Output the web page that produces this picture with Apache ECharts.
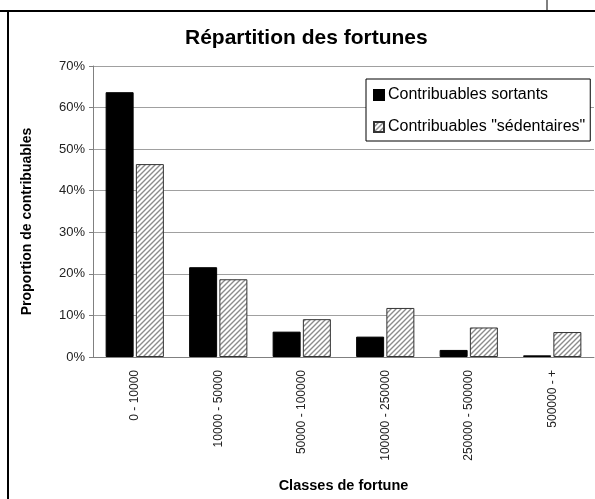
<!DOCTYPE html>
<html>
<head>
<meta charset="utf-8">
<script src="https://cdn.jsdelivr.net/npm/echarts@6/dist/echarts.min.js"></script>
<style>
  html, body { margin: 0; padding: 0; background: #fff; }
  #chart { width: 595px; height: 499px; }
</style>
</head>
<body>
<div id="chart"></div>
<script>
// classes de fortune
var categories = ['0 - 10000', '10000 - 50000', '50000 - 100000', '100000 - 250000', '250000 - 500000', '500000 - +'];
// proportions
var sortants = [0.637, 0.216, 0.061, 0.049, 0.017, 0.004];
var sedentaires = [0.464, 0.187, 0.091, 0.118, 0.071, 0.060];
var seriesNames = ['Contribuables sortants', 'Contribuables "sédentaires"'];

// motif hachuré
function hatch() {
  var c = document.createElement('canvas');
  c.width = 5; c.height = 5;
  var ctx = c.getContext('2d');
  ctx.fillStyle = '#fff';
  ctx.fillRect(0, 0, 5, 5);
  ctx.strokeStyle = '#8c8c8c';
  ctx.lineWidth = 1.4;
  ctx.beginPath();
  ctx.moveTo(-1, 6); ctx.lineTo(6, -1);
  ctx.moveTo(-1, 1); ctx.lineTo(1, -1);
  ctx.moveTo(4, 6); ctx.lineTo(6, 4);
  ctx.stroke();
  return c;
}

var font = 'Liberation Sans, Arial, sans-serif';
var chart = echarts.init(document.getElementById('chart'));
var option = {
  animation: false,
  title: {
    text: 'Répartition des fortunes',
    left: 185,
    top: 28,
    padding: 0,
    textStyle: { fontFamily: font, fontSize: 21, fontWeight: 'bold', color: '#000' }
  },
  legend: {
    orient: 'vertical',
    left: 366,
    top: 79,
    padding: [8, 5, 6, 7],
    itemGap: 16,
    itemWidth: 10,
    itemHeight: 10,
    icon: 'rect',
    borderColor: '#000',
    borderWidth: 1,
    backgroundColor: '#fff',
    textStyle: { fontFamily: font, fontSize: 16, color: '#000', padding: [2, 0, 0, -1] },
    data: seriesNames
  },
  grid: { left: 93, top: 66, right: 1, bottom: 142 },
  xAxis: {
    type: 'category',
    data: categories,
    name: 'Classes de fortune',
    nameLocation: 'middle',
    nameGap: 121,
    nameTextStyle: { fontFamily: font, fontSize: 14.5, fontWeight: 'bold', color: '#000' },
    axisLine: { lineStyle: { color: '#808080', width: 1 } },
    axisTick: { alignWithLabel: false, length: 5, lineStyle: { color: '#808080' } },
    axisLabel: { rotate: 90, margin: 13, fontFamily: font, fontSize: 12, color: '#222', interval: 0 }
  },
  yAxis: {
    type: 'value',
    min: 0,
    max: 0.7,
    interval: 0.1,
    name: 'Proportion de contribuables',
    nameLocation: 'middle',
    nameGap: 59,
    nameTextStyle: { fontFamily: font, fontSize: 14, fontWeight: 'bold', color: '#000', padding: [0, 20, 0, 0] },
    axisLine: { show: true, lineStyle: { color: '#808080' } },
    axisTick: { show: true, inside: false, length: 4, lineStyle: { color: '#808080' } },
    axisLabel: {
      margin: 8, fontFamily: font, fontSize: 13, color: '#222',
      formatter: function (v) { return Math.round(v * 100) + '%'; }
    },
    splitLine: { lineStyle: { color: '#a0a0a0', width: 1 } }
  },
  series: [
    {
      name: seriesNames[0],
      type: 'bar',
      data: sortants,
      barWidth: 28,
      barGap: '8%',
      itemStyle: { color: '#000', borderColor: '#000', borderWidth: 1 }
    },
    {
      name: seriesNames[1],
      type: 'bar',
      data: sedentaires,
      barWidth: 28,
      itemStyle: { color: { image: hatch(), repeat: 'repeat' }, borderColor: '#333', borderWidth: 1 }
    }
  ],
  graphic: [
    { type: 'line', shape: { x1: 0, y1: 11, x2: 595, y2: 11 }, style: { stroke: '#000', lineWidth: 2 } },
    { type: 'line', shape: { x1: 8, y1: 11, x2: 8, y2: 499 }, style: { stroke: '#000', lineWidth: 2 } },
    { type: 'line', shape: { x1: 547, y1: 0, x2: 547, y2: 11 }, style: { stroke: '#000', lineWidth: 1 } }
  ]
};
chart.setOption(option);
</script>
</body>
</html>
